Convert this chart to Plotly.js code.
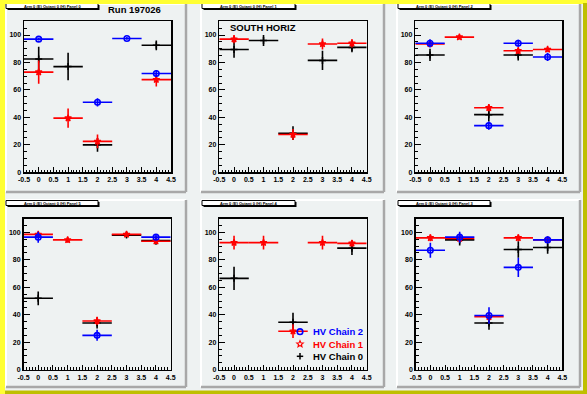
<!DOCTYPE html>
<html>
<head>
<meta charset="utf-8">
<script src="https://cdn.plot.ly/plotly-3.0.1.min.js"></script>
<style>html,body{margin:0;padding:0;background:#eef2f2;}#chart{width:587px;height:394px;}</style>
</head>
<body>
<div id="chart"></div>
<script>
// ---------------- DATA ----------------
const xBins = [0, 1, 2, 3, 4];
const xTickVals = [-0.5, 0, 0.5, 1, 1.5, 2, 2.5, 3, 3.5, 4, 4.5];
const xTickLabels = ['-0.5', '0', '0.5', '1', '1.5', '2', '2.5', '3', '3.5', '4', '4.5'];
const yTickVals = [0, 20, 40, 60, 80, 100];
const yTickLabels = ['0', '20', '40', '60', '80', '100'];
const chainNames = ['HV Chain 0', 'HV Chain 1', 'HV Chain 2'];
const panelTitles = ['Arm 0 (E) Octant 0 (H) Panel 0', 'Arm 0 (E) Octant 0 (H) Panel 1', 'Arm 0 (E) Octant 0 (H) Panel 2',
                     'Arm 0 (E) Octant 0 (H) Panel 5', 'Arm 0 (E) Octant 0 (H) Panel 4', 'Arm 0 (E) Octant 0 (H) Panel 3'];

// Panel 0 (top left)
const p0_chain0 = [82.5, 77, 20, null, 92.5];   const p0_chain0_err = [9, 10, 5, 0, 3.5];
const p0_chain1 = [73, 39.5, 22.5, null, 67.5]; const p0_chain1_err = [8.5, 7, 5, 0, 5];
const p0_chain2 = [97, null, 51, 97.5, 72];     const p0_chain2_err = [1, 0, 3, 1, 2.5];
// Panel 1 (top middle)
const p1_chain0 = [89.5, 96, 28.5, 81.5, 91];   const p1_chain0_err = [6, 4, 5, 7, 3.5];
const p1_chain1 = [97, null, 27.5, 93.5, 94];   const p1_chain1_err = [3, 0, 4, 4, 3];
const p1_chain2 = [null, null, null, null, null]; const p1_chain2_err = [0, 0, 0, 0, 0];
// Panel 2 (top right)
const p2_chain0 = [85.5, null, 42, 85.5, null]; const p2_chain0_err = [4.5, 0, 5, 4, 0];
const p2_chain1 = [93.5, 98.5, 47, 88.5, 89.5]; const p2_chain1_err = [1, 1.5, 2.5, 2, 1.5];
const p2_chain2 = [94, null, 34, 94, 84];       const p2_chain2_err = [3, 0, 3, 2.5, 3];
// Panel 3 (bottom left)
const p3_chain0 = [52, null, 34, 98, 94];       const p3_chain0_err = [5, 0, 4, 2, 3];
const p3_chain1 = [98.5, 94.5, 35.5, 98.5, 93.5]; const p3_chain1_err = [1.5, 2, 3, 1.5, 2];
const p3_chain2 = [96.5, null, 25, null, 96.5]; const p3_chain2_err = [4, 0, 4, 0, 1.5];
// Panel 4 (bottom middle)
const p4_chain0 = [66.5, null, 34.5, null, 88.5]; const p4_chain0_err = [8.5, 0, 7, 0, 5];
const p4_chain1 = [92.5, 92.5, 28, 92.5, 92];   const p4_chain1_err = [5, 5, 5, 5, 2.5];
const p4_chain2 = [null, null, null, null, null]; const p4_chain2_err = [0, 0, 0, 0, 0];
// Panel 5 (bottom right)
const p5_chain0 = [null, 94.5, 34, 87.5, 89];   const p5_chain0_err = [0, 4, 5, 6, 4.5];
const p5_chain1 = [96, 95.5, 38.5, 96, 94.5];   const p5_chain1_err = [2.5, 1.5, 3, 2.5, 1.5];
const p5_chain2 = [87, 96.5, 39.5, 74.5, 94.5]; const p5_chain2_err = [5.5, 4, 6, 7, 2.5];

// ---------------- LAYOUT HELPERS ----------------
const W = 587, H = 394;
const PX = v => v / W;
const PY = v => 1 - v / H;
const FONT = 'Liberation Sans, Arial, sans-serif';

const panelData = [
  [[p0_chain0, p0_chain0_err], [p0_chain1, p0_chain1_err], [p0_chain2, p0_chain2_err]],
  [[p1_chain0, p1_chain0_err], [p1_chain1, p1_chain1_err], [p1_chain2, p1_chain2_err]],
  [[p2_chain0, p2_chain0_err], [p2_chain1, p2_chain1_err], [p2_chain2, p2_chain2_err]],
  [[p3_chain0, p3_chain0_err], [p3_chain1, p3_chain1_err], [p3_chain2, p3_chain2_err]],
  [[p4_chain0, p4_chain0_err], [p4_chain1, p4_chain1_err], [p4_chain2, p4_chain2_err]],
  [[p5_chain0, p5_chain0_err], [p5_chain1, p5_chain1_err], [p5_chain2, p5_chain2_err]]
];

// pixel geometry (layout only)
const frames = [
  [24, 171, 21.3, 172.3], [219.3, 366.7, 21.3, 172.3], [415.3, 562.3, 21.3, 172.3],
  [23.5, 170.7, 218.6, 369.7], [219.3, 366.7, 218.6, 369.7], [415.7, 562.3, 218.6, 369.7]
];
const pads = [
  [6, 186, 4, 192], [201, 384, 4, 192], [397, 580, 4, 192],
  [6, 186, 200, 387], [201, 384, 200, 387], [397, 580, 200, 387]
];
const tboxes = [
  [6, 98, 3.5, 8.5], [202, 295, 3.5, 8.5], [398, 490, 3.5, 8.5],
  [6, 98, 200.5, 205.5], [202, 295, 200.5, 205.5], [398, 490, 200.5, 205.5]
];

const colors = ['#000000', '#ff0000', '#0000ff'];
const markers = [
  {symbol: 'cross-thin-open', size: 5, color: '#000000', line: {color: '#000000', width: 1.5}},
  {symbol: 'star-open', size: 5, color: '#ff0000', line: {color: '#ff0000', width: 1.3}},
  {symbol: 'circle-open', size: 5.5, color: '#0000ff', line: {color: '#0000ff', width: 1.6}}
];

const traces = [];
const layout = {
  width: W, height: H,
  margin: {l: 0, r: 0, t: 0, b: 0, pad: 0},
  paper_bgcolor: '#eef2f2',
  plot_bgcolor: 'rgba(0,0,0,0)',
  showlegend: false,
  shapes: [], annotations: []
};

for (let i = 0; i < 6; i++) {
  const sfx = i === 0 ? '' : String(i + 1);
  const f = frames[i];
  layout['xaxis' + sfx] = {
    domain: [PX(f[0]), PX(f[1])], anchor: 'y' + sfx,
    range: [-0.5, 4.5], fixedrange: true,
    tickmode: 'array', tickvals: xTickVals, ticktext: xTickLabels,
    ticks: 'inside', ticklen: 5, tickwidth: 1, tickcolor: '#000',
    minor: {tickmode: 'linear', tick0: -0.5, dtick: 0.1, ticks: 'inside', ticklen: 2.5, tickwidth: 1, tickcolor: '#000'},
    showgrid: false, zeroline: false,
    showline: true, mirror: true, linecolor: '#000', linewidth: 1.5,
    tickfont: {family: FONT, size: 7, weight: 'bold', color: '#000'}
  };
  layout['yaxis' + sfx] = {
    domain: [PY(f[3]), PY(f[2])], anchor: 'x' + sfx,
    range: [0, 110], fixedrange: true,
    tickmode: 'array', tickvals: yTickVals, ticktext: yTickLabels,
    ticks: 'inside', ticklen: 6, tickwidth: 1, tickcolor: '#000',
    minor: {tickmode: 'linear', tick0: 0, dtick: 5, ticks: 'inside', ticklen: 3, tickwidth: 1, tickcolor: '#000'},
    showgrid: false, zeroline: false,
    showline: true, mirror: true, linecolor: '#000', linewidth: 1.5,
    tickfont: {family: FONT, size: 7, weight: 'bold', color: '#000'}
  };

  for (let c = 0; c < 3; c++) {
    const [vals, errs] = panelData[i][c];
    traces.push({
      type: 'scatter', mode: 'markers',
      x: xBins, y: vals,
      xaxis: 'x' + sfx, yaxis: 'y' + sfx,
      name: chainNames[c],
      marker: markers[c],
      error_x: {type: 'constant', value: 0.5, color: colors[c], thickness: 1.6, width: 0},
      error_y: {type: 'data', array: errs, visible: true, color: colors[c], thickness: 1.6, width: 0},
      hoverinfo: 'skip', cliponaxis: false
    });
  }

  // pad bevel
  const p = pads[i];
  layout.shapes.push(
    {type: 'line', xref: 'paper', yref: 'paper', layer: 'below', x0: PX(p[0]), x1: PX(p[1]), y0: PY(p[2]), y1: PY(p[2]), line: {color: '#ffffff', width: 2}},
    {type: 'line', xref: 'paper', yref: 'paper', layer: 'below', x0: PX(p[0]), x1: PX(p[0]), y0: PY(p[2]), y1: PY(p[3]), line: {color: '#ffffff', width: 2}},
    {type: 'line', xref: 'paper', yref: 'paper', layer: 'below', x0: PX(p[0]), x1: PX(p[1]), y0: PY(p[3]), y1: PY(p[3]), line: {color: '#a8a8a8', width: 2.5}},
    {type: 'line', xref: 'paper', yref: 'paper', layer: 'below', x0: PX(p[1]), x1: PX(p[1]), y0: PY(p[2]), y1: PY(p[3]), line: {color: '#a8a8a8', width: 2.5}}
  );
  // title box with shadow
  const t = tboxes[i];
  layout.shapes.push(
    {type: 'rect', xref: 'paper', yref: 'paper', layer: 'above', x0: PX(t[0] + 1.5), x1: PX(t[1] + 1.5), y0: PY(t[3] + 1.5), y1: PY(t[2] + 1.5), fillcolor: '#000', line: {width: 0}},
    {type: 'rect', xref: 'paper', yref: 'paper', layer: 'above', x0: PX(t[0]), x1: PX(t[1]), y0: PY(t[3]), y1: PY(t[2]), fillcolor: '#fff', line: {color: '#000', width: 1}}
  );
  layout.annotations.push({
    xref: 'paper', yref: 'paper', x: PX((t[0] + t[1]) / 2), y: PY((t[2] + t[3]) / 2),
    xanchor: 'center', yanchor: 'middle', showarrow: false,
    text: panelTitles[i], font: {family: FONT, size: 4, weight: 'bold', color: '#000'}
  });
}

// canvas bevel (yellow)
layout.shapes.push(
  {type: 'rect', xref: 'paper', yref: 'paper', layer: 'above', x0: 0, x1: 1, y0: PY(4), y1: 1, fillcolor: '#ffff33', line: {width: 0}},
  {type: 'rect', xref: 'paper', yref: 'paper', layer: 'above', x0: 0, x1: PX(5), y0: 0, y1: 1, fillcolor: '#ffff33', line: {width: 0}},
  {type: 'rect', xref: 'paper', yref: 'paper', layer: 'above', x0: PX(583), x1: 1, y0: 0, y1: PY(3), fillcolor: '#bfbf00', line: {width: 0}},
  {type: 'rect', xref: 'paper', yref: 'paper', layer: 'above', x0: PX(5), x1: 1, y0: 0, y1: PY(390.5), fillcolor: '#bfbf00', line: {width: 0}}
);

// legend (drawn as key glyphs + coloured text, inside bottom-middle pad)
const legX = 300, legTextX = 311, legY = [331.7, 344, 356.3];
// HV Chain 2: open blue circle
layout.shapes.push({type: 'circle', xref: 'paper', yref: 'paper', layer: 'above',
  x0: PX(legX - 2.8), x1: PX(legX + 2.8), y0: PY(legY[0] + 2.8), y1: PY(legY[0] - 2.8),
  fillcolor: 'rgba(0,0,0,0)', line: {color: '#0000ff', width: 1.6}});
// HV Chain 1: small open red star
(function () {
  const cx = legX, cy = legY[1], ro = 3.4, ri = 1.5;
  let d = '';
  for (let k = 0; k < 10; k++) {
    const r = k % 2 === 0 ? ro : ri;
    const a = -Math.PI / 2 + k * Math.PI / 5;
    d += (k === 0 ? 'M' : 'L') + PX(cx + r * Math.cos(a)).toFixed(5) + ',' + PY(cy + r * Math.sin(a)).toFixed(5);
  }
  layout.shapes.push({type: 'path', xref: 'paper', yref: 'paper', layer: 'above', path: d + 'Z',
    fillcolor: 'rgba(0,0,0,0)', line: {color: '#ff0000', width: 1.1}});
})();
// HV Chain 0: black plus
layout.shapes.push(
  {type: 'line', xref: 'paper', yref: 'paper', layer: 'above', x0: PX(legX - 3.2), x1: PX(legX + 3.2), y0: PY(legY[2]), y1: PY(legY[2]), line: {color: '#000', width: 1.5}},
  {type: 'line', xref: 'paper', yref: 'paper', layer: 'above', x0: PX(legX), x1: PX(legX), y0: PY(legY[2] - 3.2), y1: PY(legY[2] + 3.2), line: {color: '#000', width: 1.5}}
);
const legOrder = [2, 1, 0];
legOrder.forEach((c, k) => {
  layout.annotations.push({xref: 'paper', yref: 'paper', x: PX(legTextX), y: PY(legY[k]),
    xanchor: 'left', yanchor: 'middle', showarrow: false, text: chainNames[c],
    font: {family: FONT, size: 9.5, weight: 'bold', color: colors[c]}});
});

// text labels
layout.annotations.push(
  {xref: 'paper', yref: 'paper', x: PX(106), y: PY(9), xanchor: 'left', yanchor: 'middle', showarrow: false,
   text: 'Run 197026', font: {family: FONT, size: 9.5, weight: 'bold', color: '#000'}},
  {xref: 'paper', yref: 'paper', x: PX(228), y: PY(27.5), xanchor: 'left', yanchor: 'middle', showarrow: false,
   text: 'SOUTH HORIZ', font: {family: FONT, size: 9.5, weight: 'bold', color: '#000'}}
);

Plotly.newPlot('chart', traces, layout, {staticPlot: true, displayModeBar: false});
</script>
</body>
</html>
